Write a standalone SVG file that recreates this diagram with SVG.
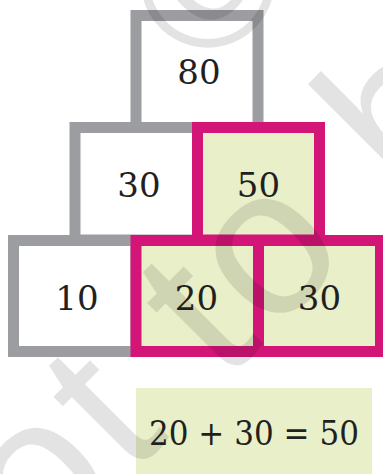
<svg xmlns="http://www.w3.org/2000/svg" width="383" height="474" viewBox="0 0 383 474">
<style>
.g{fill:#ffffff;stroke:#9c9da1;stroke-width:11}
.m{fill:#e9f0c9;stroke:#d31577;stroke-width:11}
.n{font-family:"DejaVu Serif","Liberation Serif",serif;font-size:34px;fill:#231f20;text-anchor:middle}
.w{font-family:"Liberation Sans",Arial,sans-serif;fill:#000;fill-opacity:0.11}
</style>
<rect width="383" height="474" fill="#ffffff"/>
<g id="node-80"><rect class="g" x="136" y="15.5" width="122" height="112"/></g>
<g id="node-30-mid"><rect class="g" x="75" y="127.5" width="122.5" height="112.5"/></g>
<g id="node-10"><rect class="g" x="13.5" y="240.5" width="122.5" height="111"/></g>
<g id="node-50"><rect class="m" x="197.5" y="127.5" width="122" height="112.5"/></g>
<g id="node-20"><rect class="m" x="136" y="240.5" width="122.5" height="111"/></g>
<g id="node-30-bot"><rect class="m" x="258.5" y="240.5" width="122" height="111"/></g>
<g id="equation"><rect x="136" y="388" width="236" height="86" fill="#e9f0c9"/></g>
<g id="connectors"></g>
<g id="watermark">
<text class="w" font-size="210" letter-spacing="8" transform="translate(-47,654) rotate(-45)">not to be</text>
<text class="w" font-size="190" transform="translate(204.5,76.5) rotate(-45)">©</text>
</g>
<g id="labels">
<text class="n" x="199" y="84">80</text>
<text class="n" x="139" y="197">30</text>
<text class="n" x="258.5" y="197">50</text>
<text class="n" x="77" y="310">10</text>
<text class="n" x="196.5" y="310">20</text>
<text class="n" x="319.5" y="310">30</text>
<text x="149" y="445" textLength="210" lengthAdjust="spacingAndGlyphs" style="font-family:'DejaVu Serif','Liberation Serif',serif;font-size:34px;fill:#231f20">20 + 30 = 50</text>
</g>
</svg>
